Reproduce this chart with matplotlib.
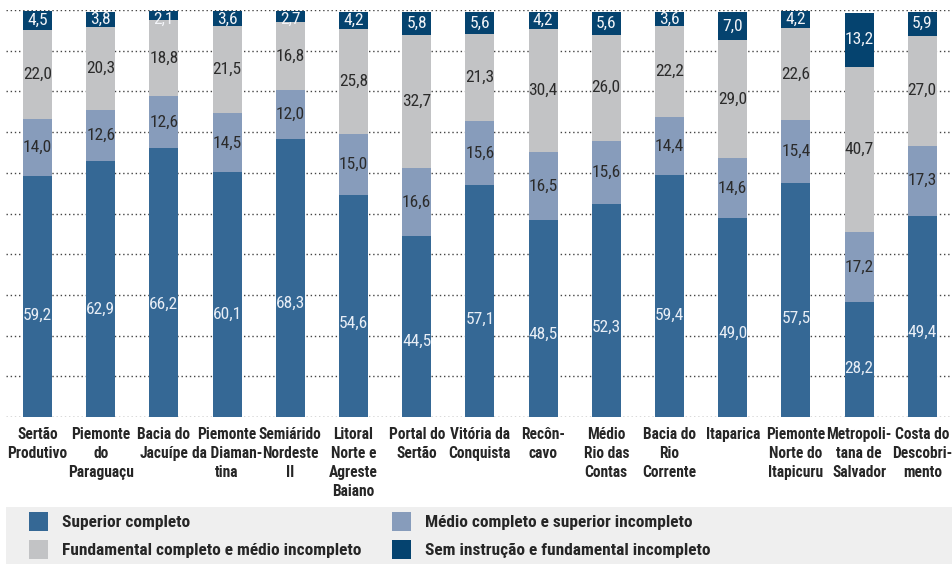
import matplotlib
matplotlib.use("Agg")
import matplotlib.pyplot as plt
from matplotlib import font_manager as fm
from matplotlib.patches import Rectangle
import numpy as np

categories = [
    "Sertão\nProdutivo", "Piemonte\ndo\nParaguaçu", "Bacia do\nJacuípe",
    "Piemonte\nda Diaman-\ntina", "Semiárido\nNordeste\nII",
    "Litoral\nNorte e\nAgreste\nBaiano", "Portal do\nSertão", "Vitória da\nConquista",
    "Recôn-\ncavo", "Médio\nRio das\nContas", "Bacia do\nRio\nCorrente", "Itaparica",
    "Piemonte\nNorte do\nItapicuru", "Metropoli-\ntana de\nSalvador", "Costa do\nDescobri-\nmento",
]
superior = [59.2, 62.9, 66.2, 60.1, 68.3, 54.6, 44.5, 57.1, 48.5, 52.3, 59.4, 49.0, 57.5, 28.2, 49.4]
medio = [14.0, 12.6, 12.6, 14.5, 12.0, 15.0, 16.6, 15.6, 16.5, 15.6, 14.4, 14.6, 15.4, 17.2, 17.3]
fundamental = [22.0, 20.3, 18.8, 21.5, 16.8, 25.8, 32.7, 21.3, 30.4, 26.0, 22.2, 29.0, 22.6, 40.7, 27.0]
sem_instrucao = [4.5, 3.8, 2.1, 3.6, 2.7, 4.2, 5.8, 5.6, 4.2, 5.6, 3.6, 7.0, 4.2, 13.2, 5.9]

series_names = ["Superior completo", "Médio completo e superior incompleto",
                "Fundamental completo e médio incompleto", "Sem instrução e fundamental incompleto"]
series = [superior, medio, fundamental, sem_instrucao]
colors = ["#356895", "#879cbb", "#c2c3c5", "#05436f"]
label_colors = ["#e8eef6", "#2b2b2b", "#2b2b2b", "#f2f4f8"]


def find_condensed(bold):
    best = None
    best_score = -1
    for f in fm.fontManager.ttflist:
        nm = f.name.lower()
        fn = f.fname.lower()
        cond = ("narrow" in nm or "condensed" in nm or "narrow" in fn
                or "condensed" in fn or f.stretch in ("condensed", "semi-condensed",
                                                      "extra-condensed", "ultra-condensed"))
        if not cond:
            continue
        if f.style != "normal" or "italic" in fn or "oblique" in fn:
            continue
        w = f.weight if isinstance(f.weight, int) else (700 if "bold" in str(f.weight) else 400)
        isbold = w >= 600 or "bold" in fn
        if isbold != bold:
            continue
        if any(k in fn for k in ("semibold", "extrabold", "light", "thin", "black", "medium")):
            continue
        score = 1
        if "liberation" in nm:
            score = 5
        elif "roboto" in nm:
            score = 4
        elif "open sans" in nm:
            score = 3
        elif "dejavu" in nm:
            score = 2
        if score > best_score:
            best, best_score = f, score
    return best


reg = find_condensed(False)
bld = find_condensed(True)
fp_reg = fm.FontProperties(fname=reg.fname) if reg else fm.FontProperties(family="DejaVu Sans", stretch="condensed")
fp_bld = fm.FontProperties(fname=bld.fname) if bld else fm.FontProperties(family="DejaVu Sans", stretch="condensed", weight="bold")

W, H = 952, 564
fig = plt.figure(figsize=(W / 100, H / 100), dpi=100)

ax = fig.add_axes([5.9 / W, (H - 417) / H, 948 / W, 407 / H])
ax.set_xlim(-0.5, 14.5)
ax.set_ylim(0, 100)

x = np.arange(len(categories))
bottom = np.zeros(len(categories))
for vals, col in zip(series, colors):
    ax.bar(x, vals, width=0.46, bottom=bottom, color=col, zorder=3, linewidth=0)
    bottom = bottom + np.array(vals)

for yv in np.arange(0, 101, 10):
    ax.axhline(yv, color="#444444", linestyle=(0, (1, 2.0)), linewidth=1.0, zorder=1)

for s in ax.spines.values():
    s.set_visible(False)
ax.set_yticks([])
ax.set_xticks(x)
ax.set_xticklabels(categories, fontproperties=fp_bld, fontsize=11.2, color="#262626",
                   linespacing=1.33, va="top")
ax.tick_params(axis="x", length=0, pad=7)

bottom = np.zeros(len(categories))
for si, (vals, lc) in enumerate(zip(series, label_colors)):
    for i, v in enumerate(vals):
        if si == 0:
            yv = min(28.0, v * 0.42)
        elif si == 3:
            yv = bottom[i] + v - max(v, 4.0) / 2
        else:
            yv = bottom[i] + v / 2
        txt = f"{v:.1f}".replace(".", ",")
        ax.text(i, yv, txt, ha="center", va="center", fontproperties=fp_reg,
                fontsize=12.5, color=lc, zorder=5, clip_on=False)
    bottom = bottom + np.array(vals)

fig.patches.append(Rectangle((6 / W, 0), (W - 6) / W, (H - 507) / H,
                             transform=fig.transFigure, facecolor="#efefef",
                             edgecolor="none", zorder=0))
legend_pos = [(29, 512), (392, 512), (29, 540), (392, 540)]
for (px, py), name, col in zip(legend_pos, series_names, colors):
    fig.patches.append(Rectangle((px / W, (H - py - 19) / H), 19 / W, 19 / H,
                                 transform=fig.transFigure, facecolor=col,
                                 edgecolor="none", zorder=1))
    fig.text((px + 33) / W, (H - py - 10) / H, name, fontproperties=fp_bld, fontsize=12.5,
             color="#262626", va="center", ha="left")

fig.savefig("out.png", dpi=100)
